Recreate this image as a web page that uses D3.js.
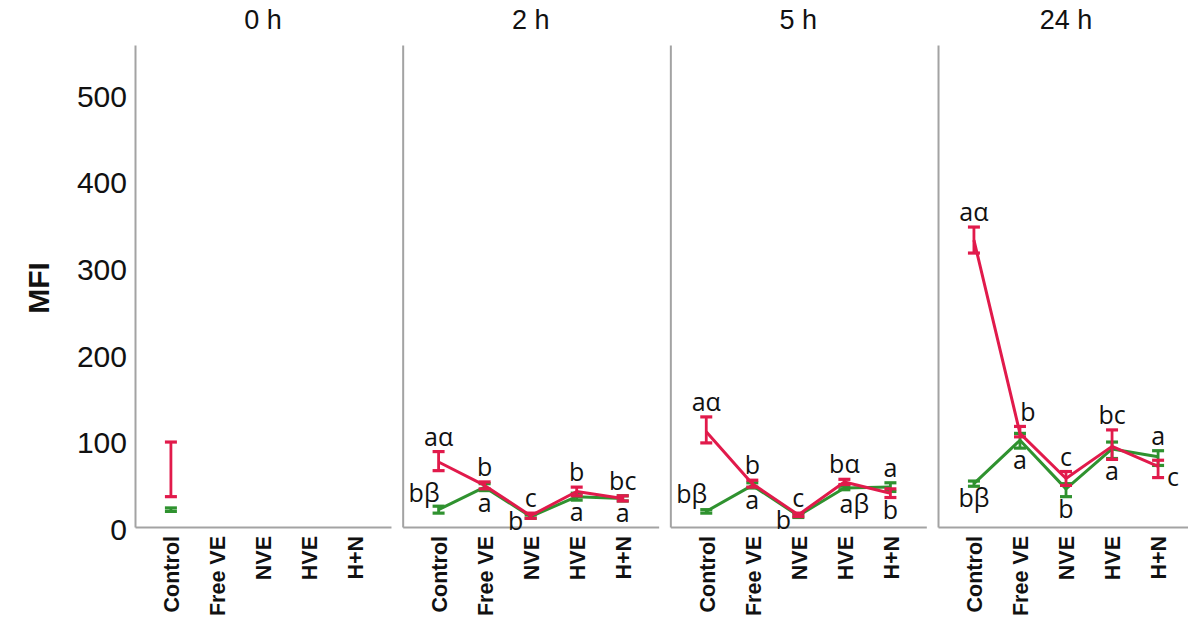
<!DOCTYPE html>
<html><head><meta charset="utf-8">
<script src="https://cdn.jsdelivr.net/npm/d3@7"></script>
<style>body{margin:0;background:#fff}</style>
</head><body>
<svg id="chart" width="1188" height="623"></svg>
<script>
// ---------------- data ----------------
const categories = ["Control", "Free VE", "NVE", "HVE", "H+N"];
const times = ["0 h", "2 h", "5 h", "24 h"];
const yTicks = [0, 100, 200, 300, 400, 500];

// red series (per time point, per category); null = not shown
const redMean = [
  [null, null, null, null, null],
  [75, 48, 13, 41, 33],
  [110, 50, 14, 52, 39],
  [331, 108, 56, 93, 70]
];
const redLow = [
  [35, null, null, null, null],
  [65, 44, 10, 36, 30],
  [97, 46, 12, 49, 34],
  [316, 104, 48, 78, 57]
];
const redHigh = [
  [98, null, null, null, null],
  [87, 52, 16, 46, 36],
  [127, 54, 16, 55, 44],
  [346, 116, 64, 112, 77]
];

// green series
const greenMean = [
  [null, null, null, null, null],
  [20, 46, 12, 35, 33],
  [18, 48, 13, 45, 46],
  [50, 100, 44, 90, 81]
];
const greenLow = [
  [18, null, null, null, null],
  [16, 42, 10, 31, 30],
  [16, 45, 11, 43, 41],
  [47, 91, 35, 79, 71]
];
const greenHigh = [
  [22, null, null, null, null],
  [24, 50, 14, 39, 36],
  [20, 51, 15, 47, 51],
  [53, 108, 50, 98, 88]
];

// significance letters (upper = placed above the points, lower = below)
const upperLabels = [
  [null, null, null, null, null],
  ["aα", "b", "c", "b", "bc"],
  ["aα", "b", "c", "bα", "a"],
  ["aα", "b", "c", "bc", "a"]
];
const lowerLabels = [
  [null, null, null, null, null],
  ["bβ", "a", "b", "a", "a"],
  ["bβ", "a", "b", "aβ", "b"],
  ["bβ", "a", "b", "a", "c"]
];

// ---------------- layout ----------------
const RED = "#e11a4b";
const GREEN = "#2f922f";
const AXIS = "#a3a3a3";

const svg = d3.select("#chart");

const panel = d3.scaleBand().domain(times).range([135, 1194]).paddingInner(0.0437).paddingOuter(0);
const pw = panel.bandwidth();
const x = d3.scalePoint().domain(categories).range([0, pw]).padding(0.78);
const y = d3.scaleLinear().domain([0, 556]).range([527, 45]);

// placement hints for letters (layout, not data)
const placement = {
  "1-lower-0": "left", "2-lower-0": "left",
  "1-lower-2": "belowLeft", "2-lower-2": "belowLeft",
  "2-lower-3": "belowRight",
  "3-upper-1": "aboveRight",
  "3-lower-4": "right"
};

times.forEach((t, ti) => {
  const g = svg.append("g").attr("transform", `translate(${panel(t)},0)`);

  // title
  g.append("text")
    .attr("x", pw / 2).attr("y", 29)
    .attr("text-anchor", "middle")
    .attr("font-family", "Liberation Sans, Arial, sans-serif")
    .attr("font-size", 27)
    .attr("fill", "#111")
    .text(t);

  // y axis
  const ya = d3.axisLeft(y).tickSize(0).tickPadding(8)
    .tickValues(ti === 0 ? yTicks : []);
  const yg = g.append("g").call(ya);
  yg.select(".domain").attr("stroke", AXIS).attr("stroke-width", 2);
  yg.selectAll("text")
    .attr("font-family", "Liberation Sans, Arial, sans-serif")
    .attr("font-size", 30)
    .attr("fill", "#111")
    .attr("dy", "0.42em");

  // x axis
  const xa = d3.axisBottom(x).tickSize(0).tickPadding(0);
  const xg = g.append("g").attr("transform", `translate(0,${y(0)})`).call(xa);
  xg.select(".domain").attr("stroke", AXIS).attr("stroke-width", 2);
  xg.selectAll(".tick text")
    .attr("font-family", "Liberation Sans, Arial, sans-serif")
    .attr("font-weight", "bold")
    .attr("font-size", 21.5)
    .attr("fill", "#111")
    .attr("text-anchor", "end")
    .attr("transform", "translate(0,9) rotate(-90)")
    .attr("x", 0).attr("y", 0)
    .attr("dy", "0.36em");

  // series
  const series = [
    { mean: greenMean[ti], lo: greenLow[ti], hi: greenHigh[ti], color: GREEN },
    { mean: redMean[ti], lo: redLow[ti], hi: redHigh[ti], color: RED }
  ];
  series.forEach(s => {
    const pts = categories.map((c, i) => ({ c, v: s.mean[i] }));
    const line = d3.line()
      .defined(d => d.v !== null)
      .x(d => x(d.c)).y(d => y(d.v));
    g.append("path").datum(pts)
      .attr("d", line)
      .attr("fill", "none")
      .attr("stroke", s.color)
      .attr("stroke-width", 3)
      .attr("stroke-linejoin", "round");

    const eb = categories.map((c, i) => ({ c, lo: s.lo[i], hi: s.hi[i] }))
      .filter(d => d.lo !== null && d.hi !== null);
    const cap = 6;
    const ebg = g.append("g").attr("stroke", s.color);
    ebg.selectAll("line.v").data(eb).join("line")
      .attr("x1", d => x(d.c)).attr("x2", d => x(d.c))
      .attr("y1", d => y(d.lo)).attr("y2", d => y(d.hi))
      .attr("stroke-width", 2.8);
    ebg.selectAll("line.lo").data(eb).join("line")
      .attr("x1", d => x(d.c) - cap).attr("x2", d => x(d.c) + cap)
      .attr("y1", d => y(d.lo)).attr("y2", d => y(d.lo))
      .attr("stroke-width", 3.2);
    ebg.selectAll("line.hi").data(eb).join("line")
      .attr("x1", d => x(d.c) - cap).attr("x2", d => x(d.c) + cap)
      .attr("y1", d => y(d.hi)).attr("y2", d => y(d.hi))
      .attr("stroke-width", 3.2);
  });

  // letters
  const lab = [];
  categories.forEach((c, i) => {
    const his = [redHigh[ti][i], greenHigh[ti][i], redMean[ti][i], greenMean[ti][i]].filter(v => v !== null);
    const los = [redLow[ti][i], greenLow[ti][i], redMean[ti][i], greenMean[ti][i]].filter(v => v !== null);
    const means = [redMean[ti][i], greenMean[ti][i]].filter(v => v !== null);
    if (!his.length) return;
    const cx = x(c);
    const maxHi = d3.max(his), minLo = d3.min(los), minMean = d3.min(means);
    [["upper", upperLabels[ti][i]], ["lower", lowerLabels[ti][i]]].forEach(([k, txt]) => {
      if (!txt) return;
      const p = placement[`${ti}-${k}-${i}`] || (k === "upper" ? "above" : "below");
      let px = cx, py, anchor = "middle";
      if (p === "above") { py = y(maxHi) - 6; }
      else if (p === "aboveRight") { px = cx + 8; py = y(maxHi) - 5; }
      else if (p === "below") { py = y(minLo) + 21; }
      else if (p === "belowRight") { px = cx + 10; py = y(minLo) + 23; }
      else if (p === "belowLeft") { px = cx - 15; py = y(minLo) + 12; }
      else if (p === "left") { px = cx + 1; py = y(minMean) - 8; anchor = "end"; }
      else if (p === "right") { px = cx + 9; py = y(minLo) + 8; anchor = "start"; }
      lab.push({ txt, px, py, anchor });
    });
  });
  g.selectAll("text.lab").data(lab).join("text")
    .attr("class", "lab")
    .attr("x", d => d.px).attr("y", d => d.py)
    .attr("text-anchor", d => d.anchor)
    .attr("font-family", "Open Sans, sans-serif")
    .attr("font-size", 25)
    .attr("fill", "#111")
    .text(d => d.txt);
});

// y axis title
svg.append("text")
  .attr("transform", `translate(49,288) rotate(-90)`)
  .attr("text-anchor", "middle")
  .attr("font-family", "Liberation Sans, Arial, sans-serif")
  .attr("font-weight", "bold")
  .attr("font-size", 30)
  .attr("fill", "#111")
  .text("MFI");
</script>
</body></html>
